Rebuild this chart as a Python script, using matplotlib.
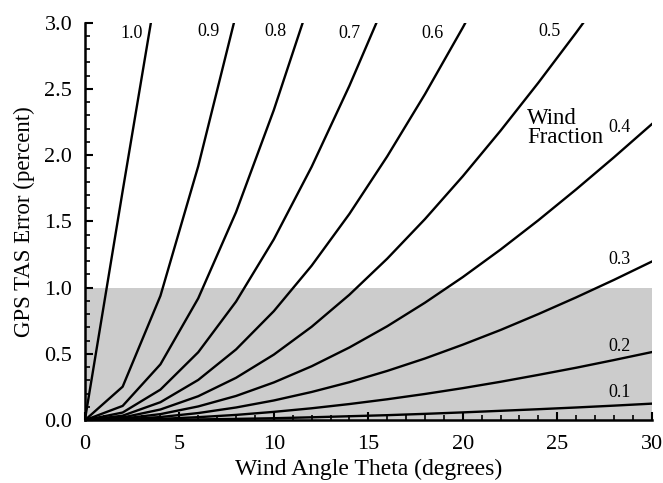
import matplotlib
matplotlib.use('Agg')
import matplotlib.pyplot as plt
from matplotlib.ticker import MultipleLocator

plt.rcParams['font.family'] = ['Liberation Serif', 'DejaVu Serif']

# wind angle (deg), points every 2 degrees
theta = [0, 2, 4, 6, 8, 10, 12, 14, 16, 18, 20, 22, 24, 26, 28, 30]

# GPS TAS error (percent) for each wind fraction
err_10 = [0, 1.73, 3.43]
err_09 = [0, 0.253, 0.939, 1.917, 3.063]
err_08 = [0, 0.108, 0.422, 0.920, 1.570, 2.341, 3.203]
err_07 = [0, 0.058, 0.231, 0.513, 0.895, 1.365, 1.912, 2.524, 3.188]
err_06 = [0, 0.034, 0.136, 0.304, 0.534, 0.823, 1.166, 1.557, 1.991, 2.461, 2.963, 3.491]
err_05 = [0, 0.020, 0.081, 0.181, 0.320, 0.495, 0.705, 0.947, 1.219, 1.518, 1.841,
          2.185, 2.547, 2.925, 3.316]
err_04 = [0, 0.012, 0.046, 0.104, 0.183, 0.285, 0.407, 0.549, 0.709, 0.887, 1.080,
          1.288, 1.509, 1.742, 1.984, 2.234]
err_03 = [0, 0.006, 0.024, 0.054, 0.096, 0.149, 0.213, 0.287, 0.372, 0.466, 0.570,
          0.681, 0.801, 0.927, 1.059, 1.197]
err_02 = [0, 0.003, 0.010, 0.023, 0.040, 0.063, 0.090, 0.122, 0.158, 0.198, 0.242,
          0.290, 0.342, 0.396, 0.454, 0.514]
err_01 = [0, 0.001, 0.002, 0.006, 0.010, 0.015, 0.022, 0.030, 0.038, 0.048, 0.059,
          0.071, 0.083, 0.096, 0.110, 0.125]

curves = [err_10, err_09, err_08, err_07, err_06, err_05, err_04, err_03, err_02, err_01]
labels = ['1.0', '0.9', '0.8', '0.7', '0.6', '0.5', '0.4', '0.3', '0.2', '0.1']
label_x = [2.45, 6.55, 10.1, 14.0, 18.4, 24.6, 28.3, 28.3, 28.3, 28.3]
label_y = [2.92, 2.93, 2.93, 2.92, 2.92, 2.93, 2.21, 1.215, 0.553, 0.206]

fig = plt.figure(figsize=(6.63, 4.83), dpi=100)
ax = fig.add_axes([0.128, 0.130, 0.855, 0.823])

ax.axhspan(0, 1.0, color='#cccccc', lw=0, zorder=0)  # gray band under 1 percent

for vals in curves:
    ax.plot(theta[:len(vals)], vals, color='black', lw=1.7, zorder=2)

for t, x, y in zip(labels, label_x, label_y):
    ax.text(x, y, t, fontsize=13, ha='center', va='center', zorder=3)

ax.text(23.4, 2.36, 'Wind\nFraction', fontsize=16.5, ha='left', va='top', linespacing=0.9)

ax.set_xlim(0, 30)
ax.set_ylim(0, 3.0)
ax.xaxis.set_major_locator(MultipleLocator(5))
ax.xaxis.set_minor_locator(MultipleLocator(1))
ax.yaxis.set_major_locator(MultipleLocator(0.5))
ax.yaxis.set_minor_locator(MultipleLocator(0.1))
ax.yaxis.set_major_formatter(matplotlib.ticker.FormatStrFormatter('%.1f'))

ax.spines['top'].set_visible(False)
ax.spines['right'].set_visible(False)
ax.spines['left'].set_linewidth(1.8)
ax.spines['bottom'].set_linewidth(1.8)
ax.spines['left'].set_zorder(4)
ax.spines['bottom'].set_zorder(4)

ax.tick_params(which='major', direction='in', length=6, width=1.5, labelsize=16)
ax.tick_params(which='minor', direction='in', length=3.5, width=1.2)
ax.tick_params(axis='y', which='major', pad=9)
ax.tick_params(axis='x', which='major', pad=11)

ax.set_xlabel('Wind Angle Theta (degrees)', fontsize=17, labelpad=3)
ax.set_ylabel('GPS TAS Error (percent)', fontsize=16.5, labelpad=7)

fig.savefig('out.png', dpi=100)
